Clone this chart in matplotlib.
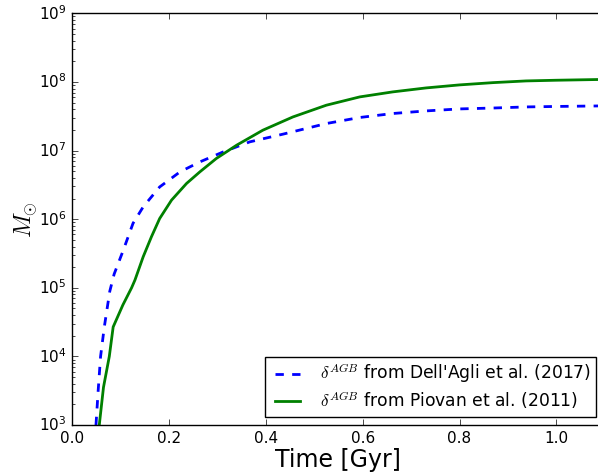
import numpy as np
import matplotlib
matplotlib.use("Agg")
import matplotlib.pyplot as plt

# Dell'Agli et al. (2017) curve (log10 of mass)
t_dellagli = [0.0495, 0.054, 0.059, 0.0667, 0.078, 0.087, 0.106, 0.126, 0.147, 0.181,
              0.223, 0.264, 0.312, 0.367, 0.436, 0.525, 0.594, 0.662, 0.731, 0.80,
              0.869, 0.9375, 1.0, 1.082, 1.10]
m_dellagli = [3.0, 3.5, 4.0, 4.43, 4.95, 5.2, 5.55, 5.94, 6.18, 6.47,
              6.69, 6.835, 6.98, 7.127, 7.24, 7.394, 7.482, 7.54, 7.578, 7.607,
              7.62, 7.636, 7.643, 7.65, 7.652]

# Piovan et al. (2011) curve
t_piovan = [0.0563, 0.065, 0.077, 0.085, 0.105, 0.123, 0.130, 0.147, 0.164, 0.181,
            0.2055, 0.2365, 0.264, 0.298, 0.340, 0.394, 0.456, 0.525, 0.594, 0.662,
            0.731, 0.80, 0.869, 0.9375, 1.0, 1.082, 1.10]
m_piovan = [3.0, 3.55, 4.0, 4.43, 4.75, 5.0, 5.114, 5.453, 5.744, 6.01,
            6.278, 6.521, 6.69, 6.885, 7.079, 7.297, 7.49, 7.661, 7.782, 7.855,
            7.913, 7.957, 7.99, 8.015, 8.025, 8.035, 8.037]

plt.style.use("classic")
plt.rcParams["figure.facecolor"] = "white"
plt.rcParams["savefig.facecolor"] = "white"

fig = plt.figure(figsize=(5.98, 4.76), dpi=100)
# the original was cropped on the right, so the axes run past the edge
ax = fig.add_axes([0.1204, 0.107, 0.891, 0.865])

ax.plot(t_dellagli, 10 ** np.array(m_dellagli), "b--", linewidth=2,
        label=r"$\delta^{AGB}$ from Dell'Agli et al. (2017)")
ax.plot(t_piovan, 10 ** np.array(m_piovan), "g-", linewidth=2,
        label=r"$\delta^{AGB}$ from Piovan et al. (2011)")

ax.set_yscale("log")
ax.set_ylim(1e3, 1e9)
ax.set_xlim(0, 1.1)
ax.set_xticks([0.0, 0.2, 0.4, 0.6, 0.8, 1.0])
ax.tick_params(axis="both", labelsize=11)

ax.set_xlabel("Time [Gyr]", fontsize=17, labelpad=2)
ax.set_ylabel(r"$M_{\odot}$", fontsize=17, labelpad=-1)

ax.legend(loc="lower right", fontsize=12.3, numpoints=2, handlelength=2.1,
          handletextpad=0.85, labelspacing=0.25, borderpad=0.3)

plt.savefig("out.png", dpi=100)
